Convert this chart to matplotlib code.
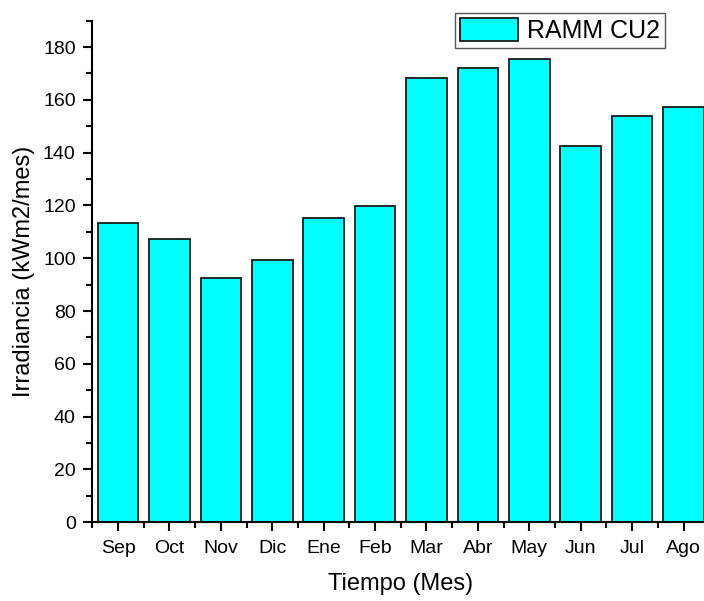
import numpy as np
import matplotlib
matplotlib.use('Agg')
import matplotlib.pyplot as plt
from matplotlib.ticker import MultipleLocator

plt.rcParams['font.family'] = ['Liberation Sans', 'DejaVu Sans']

meses = ['Sep', 'Oct', 'Nov', 'Dic', 'Ene', 'Feb', 'Mar', 'Abr', 'May', 'Jun', 'Jul', 'Ago']
irradiancia = [113.5, 107.3, 92.4, 99.4, 115.3, 119.9, 168.3, 172.0, 175.6, 142.5, 154.0, 157.3]
serie = 'RAMM CU2'

fig = plt.figure(figsize=(7.04, 6.01), dpi=100)
ax = fig.add_axes([0.1311, 0.131, 0.8764, 0.8346])

x = np.arange(len(meses))
ax.bar(x, irradiancia, width=0.79, color='#00FFFF', edgecolor='#1a1a1a',
       linewidth=1.3, label=serie, zorder=2)

ax.set_xlim(-0.5, len(meses) - 0.5)
ax.set_ylim(0, 190)
ax.set_xticks(x)
ax.set_xticklabels(meses)
ax.xaxis.set_minor_locator(MultipleLocator(1, offset=0.5))
ax.yaxis.set_major_locator(MultipleLocator(20))
ax.yaxis.set_minor_locator(MultipleLocator(10))

for s in ['top', 'right']:
    ax.spines[s].set_visible(False)
for s in ['left', 'bottom']:
    ax.spines[s].set_linewidth(1.5)

ax.tick_params(which='major', direction='out', length=6.5, width=1.5, labelsize=14)
ax.tick_params(axis='x', which='major', pad=6)
ax.tick_params(axis='y', which='major', pad=5.5)
ax.tick_params(which='minor', direction='out', length=4, width=1.5)

ax.set_xlabel('Tiempo (Mes)', fontsize=17, labelpad=12)
ax.set_ylabel('Irradiancia (kWm2/mes)', fontsize=17, labelpad=6)

# leyenda arriba a la derecha, por encima del borde del eje
leg = ax.legend(loc='upper right', bbox_to_anchor=(0.945, 0.978),
                bbox_transform=fig.transFigure, fontsize=18, frameon=True,
                fancybox=False, edgecolor='#555555', framealpha=1,
                handlelength=2.3, handleheight=1.05, borderpad=0.2,
                handletextpad=0.38, borderaxespad=0)
leg.get_frame().set_linewidth(1.0)

fig.savefig('out.png', dpi=100)
